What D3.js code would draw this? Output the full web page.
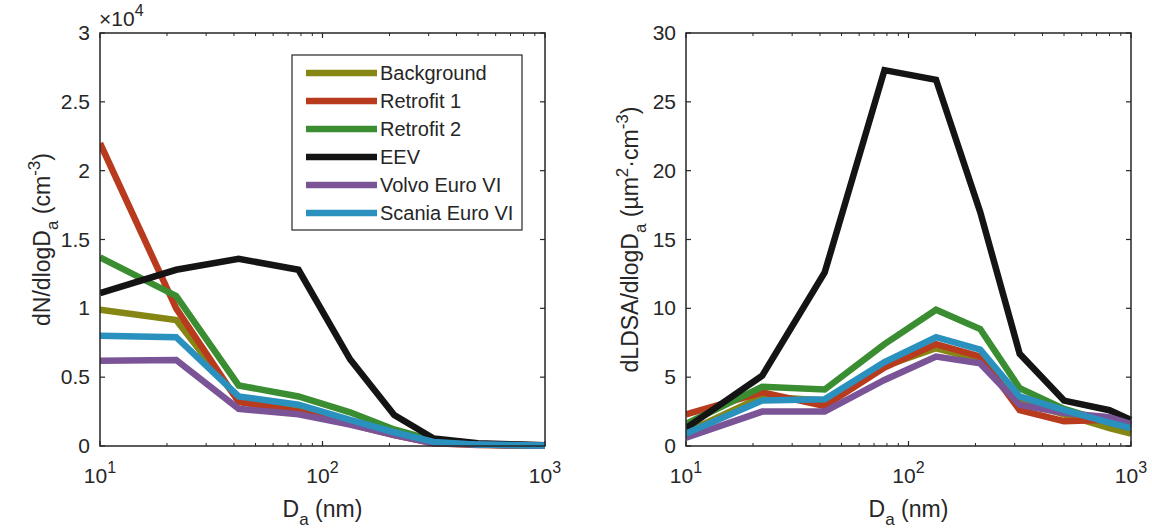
<!DOCTYPE html>
<html lang="en">
<head>
<meta charset="UTF-8">
<title>Particle size distributions</title>
<script src="https://cdn.jsdelivr.net/npm/d3@7"></script>
<style>
  body { margin: 0; background: #fff; font-family: "Liberation Sans", Arial, sans-serif; }
  svg text { fill: #262626; }
</style>
</head>
<body>
<div id="chart"></div>
<script>
// particle diameters (nm)
var diam = [10, 22, 42, 78, 133, 210, 316, 500, 800, 1000];

var series = ["Background", "Retrofit 1", "Retrofit 2", "EEV", "Volvo Euro VI", "Scania Euro VI"];
var colors = ["#868615", "#b83b1e", "#3a8d30", "#141414", "#7a5497", "#2a91bf"];

// number size distribution, dN/dlogDa (cm^-3)
var numBackground = [9900, 9150, 3300, 2700, 1700, 900, 300, 100, 40, 20];
var numRetrofit1 = [22000, 10000, 3200, 2500, 1600, 800, 200, 80, 30, 10];
var numRetrofit2 = [13700, 10900, 4400, 3600, 2450, 1200, 400, 100, 50, 20];
var numEEV = [11100, 12800, 13600, 12800, 6300, 2250, 550, 200, 100, 50];
var numVolvo = [6200, 6250, 2700, 2300, 1550, 800, 200, 100, 30, 20];
var numScania = [8000, 7900, 3600, 3000, 1900, 1000, 300, 100, 50, 30];

// lung deposited surface area, dLDSA/dlogDa (um^2 cm^-3)
var ldsaBackground = [1.0, 3.6, 3.3, 5.8, 7.1, 6.3, 3.3, 2.3, 1.3, 0.9];
var ldsaRetrofit1 = [2.3, 3.9, 2.9, 5.7, 7.4, 6.5, 2.6, 1.8, 1.9, 1.5];
var ldsaRetrofit2 = [1.6, 4.3, 4.1, 7.4, 9.9, 8.5, 4.2, 2.7, 1.7, 1.3];
var ldsaEEV = [1.3, 5.1, 12.6, 27.3, 26.6, 17.0, 6.7, 3.3, 2.6, 1.9];
var ldsaVolvo = [0.6, 2.5, 2.5, 4.8, 6.5, 6.0, 3.0, 2.4, 2.1, 1.6];
var ldsaScania = [0.9, 3.3, 3.4, 6.1, 7.9, 7.0, 3.6, 2.6, 1.7, 1.3];

var numData = [numBackground, numRetrofit1, numRetrofit2, numEEV, numVolvo, numScania];
var ldsaData = [ldsaBackground, ldsaRetrofit1, ldsaRetrofit2, ldsaEEV, ldsaVolvo, ldsaScania];

var numTicks = [0, 5000, 10000, 15000, 20000, 25000, 30000];
var ldsaTicks = [0, 5, 10, 15, 20, 25, 30];
var xTicks = [10, 100, 1000];

var W = 1152, H = 532;
var axisColor = "#262626";
var fontSize = 21;

var svg = d3.select("#chart").append("svg")
    .attr("width", W)
    .attr("height", H);

function drawPanel(left, right, yMax, yTicks, yFormat, data, labelParts, labelX) {
    var top = 33, bottom = 446;
    var x = d3.scaleLog().domain([10, 1000]).range([left, right]);
    var y = d3.scaleLinear().domain([0, yMax]).range([bottom, top]);

    var g = svg.append("g");

    // minor log ticks top and bottom
    var minor = [];
    for (var dec = 10; dec < 1000; dec *= 10) {
        for (var k = 2; k <= 9; k++) minor.push(dec * k);
    }
    minor.forEach(function (v) {
        g.append("line").attr("x1", x(v)).attr("x2", x(v)).attr("y1", bottom).attr("y2", bottom - 3)
            .attr("stroke", axisColor).attr("stroke-width", 1);
        g.append("line").attr("x1", x(v)).attr("x2", x(v)).attr("y1", top).attr("y2", top + 3)
            .attr("stroke", axisColor).attr("stroke-width", 1);
    });
    xTicks.forEach(function (v) {
        g.append("line").attr("x1", x(v)).attr("x2", x(v)).attr("y1", bottom).attr("y2", bottom - 5)
            .attr("stroke", axisColor).attr("stroke-width", 1.2);
        g.append("line").attr("x1", x(v)).attr("x2", x(v)).attr("y1", top).attr("y2", top + 5)
            .attr("stroke", axisColor).attr("stroke-width", 1.2);
        var t = g.append("text").attr("x", x(v)).attr("y", bottom + 37)
            .attr("text-anchor", "middle").style("font-size", fontSize + "px");
        t.append("tspan").text("10");
        t.append("tspan").attr("dy", -10).style("font-size", "16px").text(Math.round(Math.log10(v)));
    });

    yTicks.forEach(function (v) {
        g.append("line").attr("x1", left).attr("x2", left + 5).attr("y1", y(v)).attr("y2", y(v))
            .attr("stroke", axisColor).attr("stroke-width", 1.2);
        g.append("line").attr("x1", right).attr("x2", right - 5).attr("y1", y(v)).attr("y2", y(v))
            .attr("stroke", axisColor).attr("stroke-width", 1.2);
        g.append("text").attr("x", left - 10).attr("y", y(v) + 7)
            .attr("text-anchor", "end").style("font-size", fontSize + "px")
            .text(yFormat(v));
    });

    // lines
    var line = d3.line()
        .x(function (d, i) { return x(diam[i]); })
        .y(function (d) { return y(d); });

    g.append("defs").append("clipPath").attr("id", "clip" + left)
        .append("rect").attr("x", left).attr("y", top - 4).attr("width", right - left + 4).attr("height", bottom - top + 8);

    g.append("g").attr("clip-path", "url(#clip" + left + ")")
        .selectAll("path")
        .data(data)
        .enter()
        .append("path")
        .attr("d", line)
        .attr("fill", "none")
        .attr("stroke", function (d, i) { return colors[i]; })
        .attr("stroke-width", 6.5)
        .attr("stroke-linejoin", "miter");

    // box
    g.append("rect").attr("x", left).attr("y", top).attr("width", right - left).attr("height", bottom - top)
        .attr("fill", "none").attr("stroke", axisColor).attr("stroke-width", 1.5);

    // x label
    var xl = g.append("text").attr("x", (left + right) / 2).attr("y", 517)
        .attr("text-anchor", "middle").style("font-size", "23px");
    xl.append("tspan").text("D");
    xl.append("tspan").attr("dy", 8).style("font-size", "17px").text("a");
    xl.append("tspan").attr("dy", -8).text(" (nm)");

    // y label
    var yl = g.append("text")
        .attr("transform", "translate(" + labelX + "," + ((top + bottom) / 2) + ") rotate(-90)")
        .attr("text-anchor", "middle").style("font-size", "23px");
    labelParts.forEach(function (p) {
        var ts = yl.append("tspan").text(p.t);
        if (p.dy) ts.attr("dy", p.dy);
        if (p.small) ts.style("font-size", "17px");
    });
    return { x: x, y: y };
}

drawPanel(100, 545, 30000, numTicks, function (v) { return d3.format("")(v / 10000); }, numData,
    [{ t: "dN/dlogD" }, { t: "a", dy: 8, small: true }, { t: "  (cm", dy: -8 }, { t: "-3", dy: -10, small: true }, { t: ")", dy: 10 }],
    50);

drawPanel(686, 1131, 30, ldsaTicks, function (v) { return v; }, ldsaData,
    [{ t: "dLDSA/dlogD" }, { t: "a", dy: 8, small: true }, { t: "  (\u00b5m", dy: -8 }, { t: "2", dy: -10, small: true },
     { t: "\u00b7cm", dy: 10 }, { t: "-3", dy: -10, small: true }, { t: ")", dy: 10 }],
    638);

// exponent label for left panel
var ex = svg.append("text").attr("x", 99).attr("y", 26).style("font-size", fontSize + "px");
ex.append("tspan").text("\u00d710");
ex.append("tspan").attr("dy", -10).style("font-size", "16px").text("4");

// legend
var legX = 292, legY = 55, legW = 230, legH = 175, rowH = 28;
var leg = svg.append("g");
leg.append("rect").attr("x", legX).attr("y", legY).attr("width", legW).attr("height", legH)
    .attr("fill", "#fff").attr("stroke", axisColor).attr("stroke-width", 1.2);
series.forEach(function (s, i) {
    var cy = legY + 18 + i * rowH;
    leg.append("line").attr("x1", legX + 14).attr("x2", legX + 85).attr("y1", cy).attr("y2", cy)
        .attr("stroke", colors[i]).attr("stroke-width", 6.5);
    leg.append("text").attr("x", legX + 88).attr("y", cy + 7).style("font-size", "20px").text(s);
});
</script>
</body>
</html>
